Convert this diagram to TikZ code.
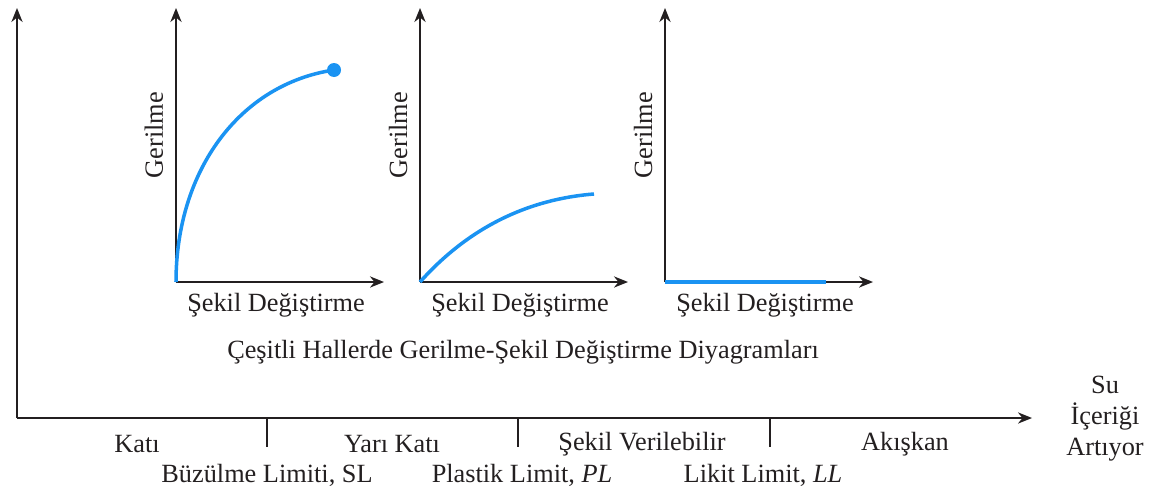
\documentclass[tikz,border=0pt]{standalone}
\usepackage{fontspec}
\setmainfont{Liberation Serif}
\usetikzlibrary{arrows.meta}
\definecolor{axiscol}{HTML}{231F20}
\definecolor{curvecol}{HTML}{1A93F2}
\tikzset{
  axis/.style={draw=axiscol, line width=1.1pt, -{Stealth[length=10pt,width=8pt]}},
  tick/.style={draw=axiscol, line width=1.1pt},
  curve/.style={draw=curvecol, line width=2.5pt},
  lbl/.style={inner sep=0pt, text=axiscol, font=\fontsize{18.7}{22}\selectfont}
}
\begin{document}
\begin{tikzpicture}[x=0.025cm, y=-0.025cm]
  \useasboundingbox (0,0) rectangle (1154,493);

  % Main axes
  \coordinate (O) at (17,418);
  \coordinate (Otop) at (17,8);
  \coordinate (Oend) at (1032,418);
  \draw[axis] (O) -- (Otop);
  \draw[axis] (O) -- (Oend);

  % Limits on the water content axis
  \foreach \name/\xx in {sl/267, pl/518, ll/770} {
    \coordinate (\name) at (\xx,418);
    \coordinate (\name b) at (\xx,447);
    \draw[tick] (\name) -- (\name b);
  }

  % States
  \node[lbl] (kati) at (137,444) {Katı};
  \node[lbl] (yari) at (392,444) {Yarı Katı};
  \node[lbl] (sekil) at (642,444) {Şekil Verilebilir};
  \node[lbl] (akis) at (905,444) {Akışkan};

  % Limit names
  \node[lbl] (slname) at (267,475) {Büzülme Limiti, SL};
  \node[lbl] (plname) at (522,475) {Plastik Limit, \textit{PL}};
  \node[lbl] (llname) at (763,475) {Likit Limit, \textit{LL}};

  % Axis label
  \node[lbl, align=center] (su) at (1105,419) {Su\\İçeriği\\Artıyor};

  % Small stress-strain diagrams
  \foreach \n/\ox in {a/176, b/420, c/665} {
    \coordinate (\n0) at (\ox,282);
    \coordinate (\n y) at (\ox,8);
    \coordinate (\n x) at (\ox+208,282);
    \draw[axis] (\n0) -- (\n y);
    \draw[axis] (\n0) -- (\n x);
    \node[lbl, rotate=90] (\n ger) at (\ox-22,135) {Gerilme};
    \node[lbl] (\n sek) at (\ox+100,305) {Şekil Değiştirme};
  }

  % Solid
  \coordinate (aend) at (334,70);
  \draw[curve] (a0) .. controls (176,170) and (240,84) .. (aend);
  \fill[curvecol] (aend) circle (7);

  % Semi solid
  \coordinate (bend) at (594,194);
  \draw[curve] (b0) .. controls (470,226) and (530,199) .. (bend);

  % Liquid
  \coordinate (cend) at (826,282);
  \draw[curve] (c0) -- (cend);

  % Caption
  \node[lbl] (baslik) at (523,352) {Çeşitli Hallerde Gerilme-Şekil Değiştirme Diyagramları};
\end{tikzpicture}
\end{document}
